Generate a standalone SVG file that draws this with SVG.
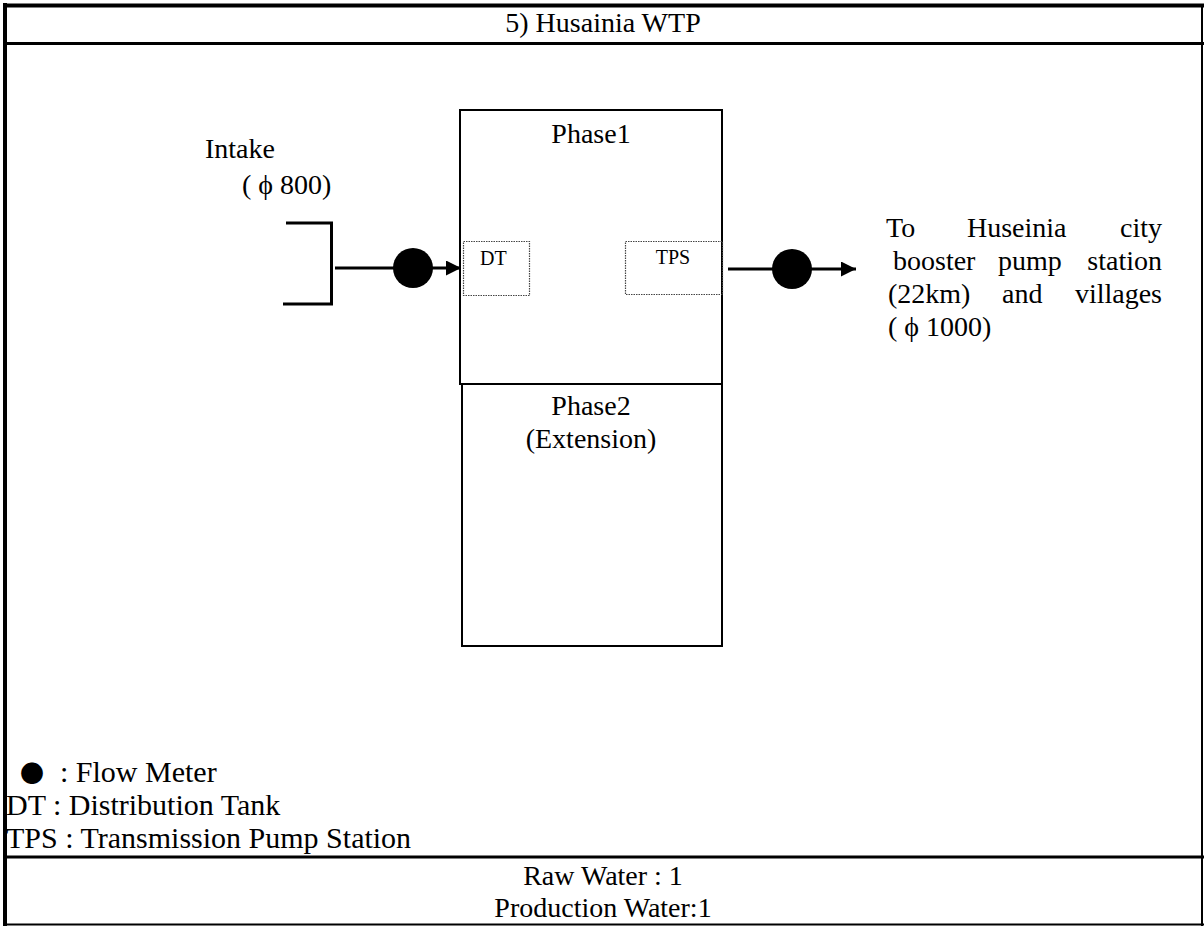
<svg xmlns="http://www.w3.org/2000/svg" width="1204" height="926" viewBox="0 0 1204 926">
<defs>
<style>
.t{font-family:"Liberation Serif","Times New Roman",serif;font-size:28px;fill:#000}
.l{font-family:"Liberation Serif","Times New Roman",serif;font-size:30px;fill:#000}
.s{font-family:"Liberation Serif","Times New Roman",serif;font-size:20px;fill:#000}
.box{fill:none;stroke:#000;stroke-width:2}
.dot{fill:none;stroke:#444;stroke-width:1.2;stroke-dasharray:1.5 1}
.pipe{fill:none;stroke:#000;stroke-width:3}
.fm{fill:#000}
</style>
<marker id="ah" viewBox="0 0 10 10" refX="10" refY="5" markerWidth="5" markerHeight="5" orient="auto" markerUnits="strokeWidth">
<path d="M0,0 L10,5 L0,10 z" fill="#000"/>
</marker>
</defs>
<rect width="1204" height="926" fill="#fff"/>
<g id="frame">
<line x1="5" y1="3" x2="5" y2="926" stroke="#000" stroke-width="4"/>
<line x1="3" y1="5.5" x2="1204" y2="5.5" stroke="#000" stroke-width="4"/>
<line x1="1202" y1="4" x2="1202" y2="926" stroke="#000" stroke-width="2"/>
<line x1="4" y1="924.5" x2="1204" y2="924.5" stroke="#000" stroke-width="2"/>
<line x1="4" y1="43.5" x2="1204" y2="43.5" stroke="#000" stroke-width="3"/>
<line x1="4" y1="857" x2="1204" y2="857" stroke="#000" stroke-width="3"/>
<text class="t" x="603" y="32" text-anchor="middle">5) Husainia WTP</text>
<text class="t" x="603" y="885" text-anchor="middle">Raw Water : 1</text>
<text class="t" x="603" y="917" text-anchor="middle">Production Water:1</text>
</g>
<g id="intake">
<path class="pipe" d="M286,223 H331.5 V304 H283"/>
<text class="t" x="205" y="158">Intake</text>
<text class="t" x="242" y="194">( ϕ 800)</text>
</g>
<g id="phase1">
<rect class="box" x="460" y="110" width="262" height="274"/>
<text class="t" x="591" y="143" text-anchor="middle">Phase1</text>
</g>
<g id="dt">
<rect class="dot" x="463.5" y="241.5" width="66" height="54"/>
<text class="s" x="480" y="265">DT</text>
</g>
<g id="tps">
<rect class="dot" x="625.5" y="241.5" width="97" height="53"/>
<text class="s" x="673" y="264" text-anchor="middle">TPS</text>
</g>
<g id="phase2">
<rect class="box" x="462" y="384" width="260" height="262"/>
<text class="t" x="591" y="415" text-anchor="middle">Phase2</text>
<text class="t" x="591" y="448" text-anchor="middle">(Extension)</text>
</g>
<g id="fm1"><circle class="fm" cx="413" cy="268" r="20"/></g>
<g id="fm2"><circle class="fm" cx="792" cy="269" r="20"/></g>
<g id="dest">
<text class="t" x="886" y="237">To</text>
<text class="t" x="967" y="237">Huseinia</text>
<text class="t" x="1162" y="237" text-anchor="end">city</text>
<text class="t" x="893" y="270">booster</text>
<text class="t" x="998" y="270">pump</text>
<text class="t" x="1162" y="270" text-anchor="end">station</text>
<text class="t" x="888" y="303">(22km)</text>
<text class="t" x="1002" y="303">and</text>
<text class="t" x="1162" y="303" text-anchor="end">villages</text>
<text class="t" x="888" y="336">( ϕ 1000)</text>
</g>
<g id="legend">
<text class="l" x="6" y="782"><tspan x="20" font-family="'Noto Sans CJK JP',sans-serif" font-size="24">●</tspan><tspan x="60">: Flow Meter</tspan></text>
<text class="l" x="6" y="815">DT : Distribution Tank</text>
<text class="l" x="6" y="848">TPS : Transmission Pump Station</text>
</g>
<g id="connectors">
<line class="pipe" x1="335" y1="268" x2="461" y2="268" marker-end="url(#ah)"/>
<line class="pipe" x1="728" y1="269" x2="856" y2="269" marker-end="url(#ah)"/>
</g>
</svg>
